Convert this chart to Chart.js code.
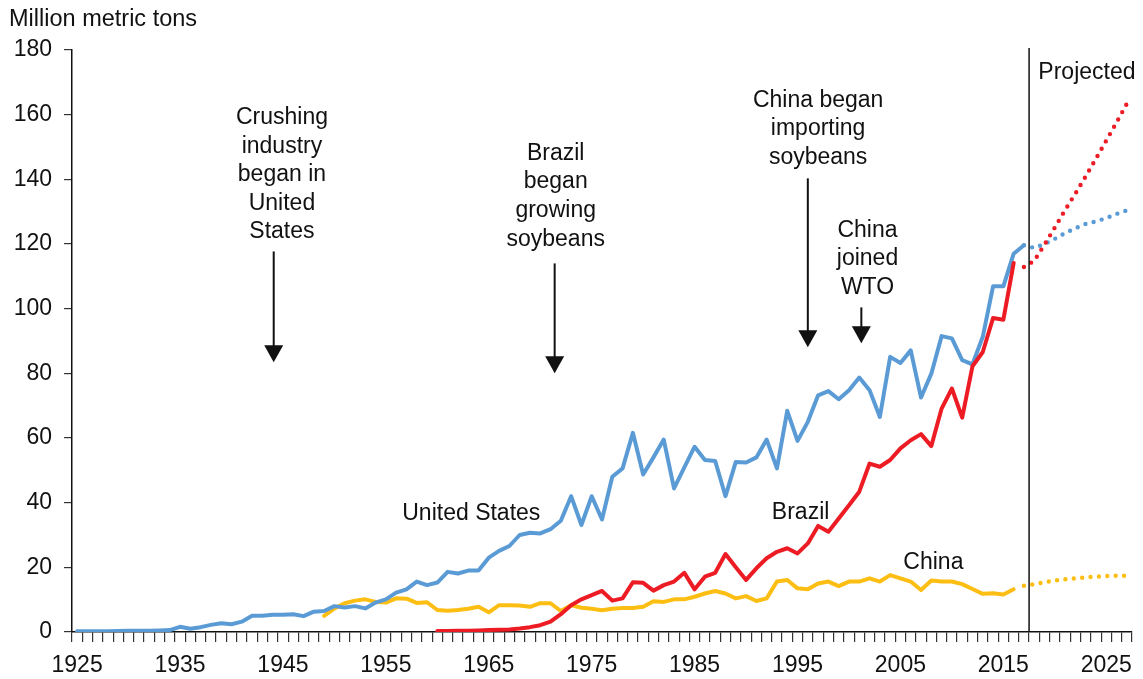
<!DOCTYPE html>
<html>
<head>
<meta charset="utf-8">
<script src="https://cdn.jsdelivr.net/npm/chart.js@4.4.1/dist/chart.umd.min.js"></script>
<style>
  html, body { margin: 0; padding: 0; background: #fff; }
  #wrap { width: 1143px; height: 679px; position: relative; }
</style>
</head>
<body>
<div id="wrap"><canvas id="soyChart"></canvas></div>
<script>
// soybean production, million metric tons
const usStart = 1925;
const usValues = [
    0.2, 0.2, 0.2, 0.2, 0.3, 0.4, 0.4, 0.4, 0.5, 0.6,
    1.6, 1.0, 1.5, 2.2, 2.7, 2.4, 3.2, 5.0, 5.0, 5.3,
    5.3, 5.5, 4.9, 6.3, 6.5, 8.0, 7.6, 8.0, 7.3, 9.1,
    10.1, 12.2, 13.2, 15.6, 14.5, 15.3, 18.6, 18.1, 19.0, 19.0,
    23.0, 25.1, 26.6, 30.0, 30.7, 30.5, 31.8, 34.4, 42.0, 33.1,
    42.0, 34.8, 48.0, 50.6, 61.6, 48.7, 54.0, 59.5, 44.4, 50.9,
    57.3, 53.2, 52.9, 42.0, 52.6, 52.4, 54.0, 59.5, 50.6, 68.4,
    59.1, 65.0, 73.2, 74.5, 72.0, 74.8, 78.7, 74.8, 66.5, 85.1,
    83.2, 87.1, 72.5, 79.9, 91.5, 90.8, 84.1, 82.8, 91.3, 106.9,
    106.9, 117.0, 119.6
];
const brazilStart = 1960;
const brazilValues = [
    0.3, 0.3, 0.4, 0.4, 0.5, 0.6, 0.7, 0.8, 1.1, 1.5,
    2.1, 3.2, 5.5, 8.3, 10.1, 11.4, 12.7, 9.7, 10.4, 15.4,
    15.2, 12.8, 14.5, 15.6, 18.3, 13.2, 17.1, 18.3, 24.1, 20.0,
    16.1, 19.7, 22.8, 24.8, 25.9, 24.3, 27.4, 32.8, 31.0, 35.1,
    39.2, 43.4, 52.1, 51.1, 53.2, 56.8, 59.3, 61.2, 57.5, 69.1,
    75.3, 66.3, 82.2, 86.6, 97.1, 96.6, 114.1
];
const chinaStart = 1949;
const chinaValues = [
    5.0, 7.3, 8.9, 9.7, 10.1, 9.3, 9.1, 10.4, 10.3, 9.0,
    9.2, 6.8, 6.6, 6.8, 7.2, 7.8, 6.1, 8.3, 8.3, 8.2,
    7.8, 8.9, 8.9, 6.5, 8.3, 7.5, 7.2, 6.7, 7.2, 7.4,
    7.4, 7.8, 9.5, 9.3, 10.1, 10.1, 10.9, 11.9, 12.7, 11.9,
    10.4, 11.1, 9.6, 10.4, 15.6, 16.1, 13.5, 13.2, 15.0, 15.6,
    14.2, 15.6, 15.6, 16.6, 15.6, 17.6, 16.6, 15.6, 13.0, 15.9,
    15.6, 15.6, 14.8, 13.3, 11.8, 12.0, 11.6, 13.2
];

// projections
const projStart = 2017;
const usProjected = [119.6, 118.8, 120.0, 121.6, 123.4, 124.9, 126.2, 127.0, 128.0, 129.3, 130.4];
const brazilProjected = [112.9, 114.8, 119.8, 125.1, 130.5, 135.6, 140.9, 146.4, 152.0, 157.6, 163.4];
const chinaProjected = [14.3, 14.8, 15.4, 15.9, 16.3, 16.6, 16.9, 17.1, 17.3, 17.4, 17.4];

const xTickLabels = ['1925', '1935', '1945', '1955', '1965', '1975', '1985', '1995', '2005', '2015', '2025'];
const projectionYear = 2017.5;

const BLUE = '#5b9bd5';
const RED = '#ed1c24';
const YELLOW = '#fdbe14';
const INK = '#111111';
const FONT = '"Liberation Sans", Arial, Helvetica, sans-serif';

function toPoints(start, values) {
    return values.map(function (v, i) { return { x: start + i, y: v }; });
}

function solid(label, color, start, values) {
    return {
        label: label,
        data: toPoints(start, values),
        borderColor: color,
        borderWidth: 4,
        borderJoinStyle: 'round',
        borderCapStyle: 'round',
        pointRadius: 0,
        tension: 0
    };
}

function dotted(label, color, start, values) {
    return {
        label: label,
        data: toPoints(start, values),
        borderColor: color,
        borderWidth: 4.4,
        borderDash: [0, 8.4],
        borderCapStyle: 'round',
        pointRadius: 0,
        tension: 0
    };
}

// text notes and arrows, anchored in data units
const notes = [
    { lines: ['Crushing', 'industry', 'began in', 'United', 'States'], x: 1944.9, y: 159.1,
      arrow: { x: 1944.1, from: 117.7, to: 83.4 } },
    { lines: ['Brazil', 'began', 'growing', 'soybeans'], x: 1971.5, y: 148.0,
      arrow: { x: 1971.4, from: 114.0, to: 80.0 } },
    { lines: ['China began', 'importing', 'soybeans'], x: 1997.0, y: 164.4,
      arrow: { x: 1996.0, from: 140.3, to: 88.1 } },
    { lines: ['China', 'joined', 'WTO'], x: 2001.8, y: 124.2,
      arrow: { x: 2001.2, from: 100.4, to: 89.3 } },
    { lines: ['United States'], x: 1963.3, y: 36.5 },
    { lines: ['Brazil'], x: 1995.3, y: 36.8 },
    { lines: ['China'], x: 2008.2, y: 21.3 },
    { lines: ['Projected'], x: 2018.4, y: 173.1, align: 'left' }
];

const notesPlugin = {
    id: 'notes',
    afterDatasetsDraw(chart) {
        const ctx = chart.ctx;
        const xs = chart.scales.x;
        const ys = chart.scales.y;
        const area = chart.chartArea;
        ctx.save();

        // projection divider
        const px = xs.getPixelForValue(projectionYear);
        ctx.strokeStyle = INK;
        ctx.lineWidth = 1.5;
        ctx.beginPath();
        ctx.moveTo(px, area.top - 2);
        ctx.lineTo(px, area.bottom);
        ctx.stroke();

        // unit label
        ctx.fillStyle = INK;
        ctx.font = '23.5px ' + FONT;
        ctx.textAlign = 'left';
        ctx.textBaseline = 'middle';
        ctx.fillText('Million metric tons', 9, 20);

        ctx.font = '23px ' + FONT;
        notes.forEach(function (n) {
            const tx = xs.getPixelForValue(n.x);
            const ty = ys.getPixelForValue(n.y);
            ctx.textAlign = n.align || 'center';
            n.lines.forEach(function (line, i) {
                ctx.fillText(line, tx, ty + i * 28.6);
            });
            if (n.arrow) {
                const ax = xs.getPixelForValue(n.arrow.x);
                const a0 = ys.getPixelForValue(n.arrow.from);
                const a1 = ys.getPixelForValue(n.arrow.to);
                ctx.strokeStyle = INK;
                ctx.lineWidth = 2;
                ctx.beginPath();
                ctx.moveTo(ax, a0);
                ctx.lineTo(ax, a1 - 12);
                ctx.stroke();
                ctx.beginPath();
                ctx.moveTo(ax - 9.5, a1 - 17);
                ctx.lineTo(ax + 9.5, a1 - 17);
                ctx.lineTo(ax, a1);
                ctx.closePath();
                ctx.fill();
            }
        });
        ctx.restore();
    }
};

document.addEventListener('DOMContentLoaded', function () {
    const ctx = document.getElementById('soyChart').getContext('2d');
    new Chart(ctx, {
        type: 'line',
        data: {
            datasets: [
                solid('Brazil', RED, brazilStart, brazilValues),
                solid('United States', BLUE, usStart, usValues),
                solid('China', YELLOW, chinaStart, chinaValues),
                dotted('Brazil projected', RED, projStart, brazilProjected),
                dotted('United States projected', BLUE, projStart, usProjected),
                dotted('China projected', YELLOW, projStart, chinaProjected)
            ]
        },
        options: {
            responsive: true,
            maintainAspectRatio: false,
            animation: false,
            layout: { padding: { top: 50, right: 11, left: 0, bottom: 0 } },
            plugins: {
                legend: { display: false },
                tooltip: { enabled: false }
            },
            scales: {
                x: {
                    type: 'linear',
                    min: 1924.5,
                    max: 2027.5,
                    afterBuildTicks: function (scale) {
                        const ticks = [];
                        for (let v = 1924.5; v <= 2027.5; v += 1) {
                            ticks.push({ value: v });
                        }
                        scale.ticks = ticks;
                    },
                    afterFit: function (scale) { scale.height = 47; },
                    border: { display: true, color: INK, width: 1.5 },
                    grid: {
                        display: true,
                        drawOnChartArea: false,
                        drawTicks: true,
                        tickLength: 10,
                        color: '#333',
                        lineWidth: 1.2
                    },
                    ticks: {
                        autoSkip: false,
                        maxRotation: 0,
                        minRotation: 0,
                        labelOffset: 5.1,
                        padding: 10,
                        color: INK,
                        font: { family: FONT, size: 23 },
                        callback: function (value) {
                            const yr = String(value + 0.5);
                            return xTickLabels.indexOf(yr) >= 0 ? yr : '';
                        }
                    }
                },
                y: {
                    min: 0,
                    max: 180,
                    afterFit: function (scale) { scale.width = 72; },
                    border: { display: true, color: INK, width: 1.5 },
                    grid: {
                        display: true,
                        drawOnChartArea: false,
                        drawTicks: true,
                        tickLength: 8,
                        color: '#333',
                        lineWidth: 1.2
                    },
                    ticks: {
                        stepSize: 20,
                        padding: 12,
                        color: INK,
                        font: { family: FONT, size: 23 }
                    }
                }
            }
        },
        plugins: [notesPlugin]
    });
});
</script>
</body>
</html>
